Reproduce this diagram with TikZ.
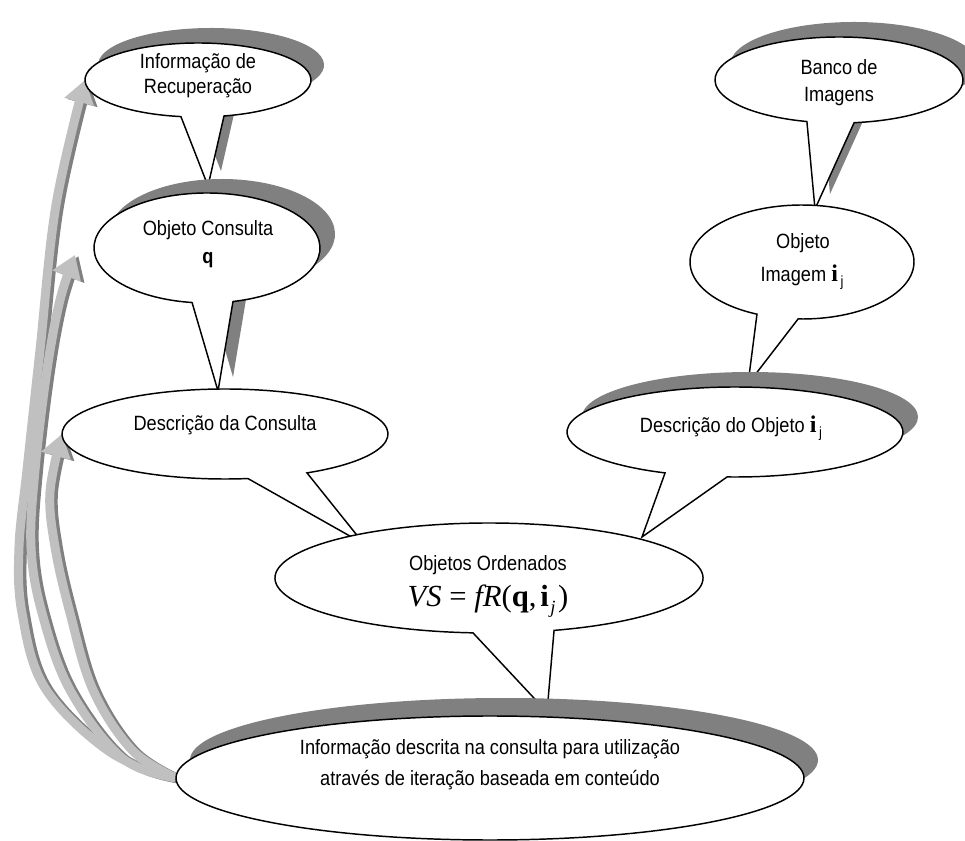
\documentclass[tikz,border=0pt]{standalone}
\usepackage{fontspec}
\setmainfont{Liberation Sans}[FakeStretch=0.88]
\newfontfamily\serifmath{Liberation Serif}
\usetikzlibrary{shapes.geometric,arrows.meta,calc}

\definecolor{shadowgray}{HTML}{808080}
\definecolor{bandlight}{HTML}{C0C0C0}
\definecolor{banddark}{HTML}{808080}

% speech bubble: ellipse (cx,cy,rx,ry) opened between angles #6 and #7, pointer to #8
\newcommand\bubble[8]{%
  \path[#1] ($(#2,#3)+({#4*cos(#6)},{#5*sin(#6)})$)
    arc[start angle=#6, end angle={#7-360}, x radius=#4, y radius=#5] -- #8 -- cycle;}

% bold vector i with index j
\newcommand\vecij{{\serifmath\bfseries\fontsize{18}{18}\selectfont i}\kern2pt\raisebox{-4pt}{\fontsize{11}{11}\selectfont j}}

\tikzset{
  anchorell/.style 2 args={ellipse, inner sep=0pt, outer sep=0pt,
    minimum width={0.75pt*#1}, minimum height={0.75pt*#2}},
  bubbleline/.style={draw=black, fill=white, line width=1.1pt, line join=miter},
  shadowfill/.style={fill=shadowgray},
  lbl/.style={align=center, inner sep=0pt, font=\fontsize{15.5}{18.75}\selectfont},
  band/.style={line width=6.75pt, draw=bandlight, -{Triangle[width=22pt,length=17pt]}},
  bandshadow/.style={band, draw=banddark, transform canvas={xshift=2.6pt, yshift=-0.9pt}},
}

\begin{document}
\begin{tikzpicture}[x=0.75pt, y=-0.75pt]
\useasboundingbox (0,0) rectangle (965,841);

% ellipse anchors of the bubbles
\node[anchorell={226}{74}]  (info)  at (198,80)  {};
\node[anchorell={226}{110}] (oc)    at (207,248) {};
\node[anchorell={326}{90}]  (dc)    at (225,434) {};
\node[anchorell={248}{86}]  (banco) at (839,80)  {};
\node[anchorell={224}{114}] (oi)    at (802,262) {};
\node[anchorell={336}{90}]  (do)    at (735,432) {};
\node[anchorell={428}{110}] (oo)    at (489,578) {};
\node[anchorell={628}{124}] (iter)  at (490,778) {};

% feedback arrows from the bottom bubble
\foreach \s in {bandshadow, band} {
  \draw[\s] plot[smooth, tension=0.6] coordinates {(iter.west) (110,752) (45,688) (22,613)
    (19,547) (27,470) (40,350) (56,205) (info.west)};
}
\foreach \s in {bandshadow, band} {
  \draw[\s] plot[smooth, tension=0.6] coordinates {(iter.west) (122,758) (70,690) (42,613)
    (31,547) (35,470) (47,370) (60,300) ($(oc.west)+(-19,7)$)};
}
\foreach \s in {bandshadow, band} {
  \draw[\s] plot[smooth, tension=0.6] coordinates {(iter.west) (132,750) (93,690) (70,613)
    (55,547) (50,492) (dc.west)};
}

% Informacao de Recuperacao
\bubble{shadowfill, shift={(13,-15)}}{198}{80}{113}{37}{76.7}{98.7}{(208,186)}
\bubble{bubbleline}{198}{80}{113}{37}{76.7}{98.7}{(208,186)}
\node[lbl] (info-t) at (198,76) {Informação de\\Recuperação};

% Objeto Consulta
\bubble{shadowfill, shift={(15,-14)}}{207}{248}{113}{55}{76.7}{97.6}{(218,391)}
\bubble{bubbleline}{207}{248}{113}{55}{76.7}{97.6}{(218,391)}
\node[lbl, font=\fontsize{15.5}{21}\selectfont] (oc-t) at (208,244) {Objeto Consulta\\\textbf{q}};

% Descricao da Consulta
\bubble{bubbleline}{225}{434}{163}{45}{59.8}{81.9}{(364,544)}
\node[lbl] (dc-t) at (225,425) {Descrição da Consulta};

% Banco de Imagens
\bubble{shadowfill, shift={(15,-15)}}{839}{80}{124}{43}{83}{105}{(815,209)}
\bubble{bubbleline}{839}{80}{124}{43}{83}{105}{(815,209)}
\node[lbl, font=\fontsize{15.5}{20.25}\selectfont] (banco-t) at (839,83) {Banco de\\Imagens};

% Objeto Imagem
\bubble{bubbleline}{802}{262}{112}{57}{92}{113.7}{(748,384)}
\node[lbl] (oi-a) at (803,243) {Objeto};
\node[lbl] (oi-b) at (802,277) {Imagem \vecij};

% Descricao do Objeto
\path[shadowfill] (750,417) ellipse [x radius=168, y radius=45];
\bubble{bubbleline}{735}{432}{168}{45}{92.7}{114.6}{(642,537)}
\node[lbl] (do-t) at (731,428) {Descrição do Objeto \vecij};

% Objetos Ordenados
\bubble{bubbleline}{489}{578}{214}{55}{72.3}{94.3}{(547,712)}
\node[lbl] (oo-a) at (488,565) {Objetos Ordenados};
\node[inner sep=0pt, font=\serifmath\fontsize{23}{23}\selectfont] (oo-b) at (488,601)
  {\itshape VS \upshape= \itshape fR\upshape(\textbf{q},\kern3pt\textbf{i}\kern1pt\raisebox{-5pt}{\fontsize{14}{14}\selectfont\itshape j}\kern2pt)};

% Informacao descrita na consulta
\path[shadowfill] (504,760) ellipse [x radius=314, y radius=62];
\path[bubbleline] (490,778) ellipse [x radius=314, y radius=62];
\node[lbl, font=\fontsize{15.5}{23.25}\selectfont] (iter-t) at (490,765)
  {Informação descrita na consulta para utilização\\através de iteração baseada em conteúdo};
\end{tikzpicture}
\end{document}
